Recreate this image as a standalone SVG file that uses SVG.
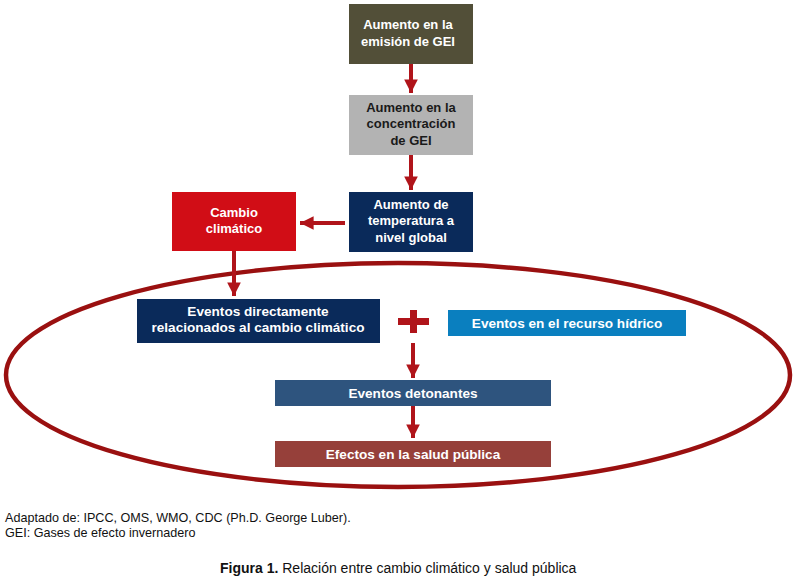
<svg xmlns="http://www.w3.org/2000/svg" width="796" height="581" viewBox="0 0 796 581">
<defs>
<style>
.t{font-family:"Liberation Sans",Arial,sans-serif;font-weight:bold;font-size:13px;fill:#fff;text-anchor:middle}
.b{font-size:13.6px}
.d{fill:#1a1a1a}
.c{font-family:"Liberation Sans",Arial,sans-serif;font-size:12.6px;fill:#111}
.ln{stroke:#b0141a;stroke-width:4;fill:none}
</style>
<marker id="ah" viewBox="0 0 10 10" refX="10" refY="5" markerWidth="3.4" markerHeight="3.4" markerUnits="strokeWidth" orient="auto">
<path d="M0,0 L10,5 L0,10 Z" fill="#b0141a"/>
</marker>
</defs>
<rect width="796" height="581" fill="#fff"/>
<g id="ellipse"><ellipse cx="398" cy="375" rx="392" ry="112" fill="none" stroke="#9a1010" stroke-width="4.5"/></g>
<g id="n1"><rect x="349" y="4" width="124" height="60" fill="#524f38"/>
<text class="t" x="408" y="29">Aumento en la</text><text class="t" x="408" y="46">emisión de GEI</text></g>
<g id="n2"><rect x="349" y="95" width="124" height="60" fill="#b3b3b3"/>
<text class="t d" x="411" y="112">Aumento en la</text><text class="t d" x="411" y="128">concentración</text><text class="t d" x="411" y="145">de GEI</text></g>
<g id="n3"><rect x="349" y="192" width="124" height="60" fill="#0a2a5a"/>
<text class="t" x="411" y="209">Aumento de</text><text class="t" x="411" y="225">temperatura a</text><text class="t" x="411" y="242">nivel global</text></g>
<g id="n4"><rect x="172" y="192" width="124" height="59" fill="#d10d16"/>
<text class="t" x="234" y="217">Cambio</text><text class="t" x="234" y="233">climático</text></g>
<g id="n5"><rect x="137" y="299" width="243" height="44" fill="#0a2a5a"/>
<text class="t b" x="258" y="316">Eventos directamente</text><text class="t b" x="258" y="332">relacionados al cambio climático</text></g>
<g id="n6"><rect x="448" y="310" width="238" height="26" fill="#0a7fbf"/>
<text class="t b" x="567" y="328">Eventos en el recurso hídrico</text></g>
<g id="n7"><rect x="275" y="380" width="276" height="26" fill="#2e547e"/>
<text class="t b" x="413" y="398">Eventos detonantes</text></g>
<g id="n8"><rect x="275" y="441" width="276" height="26" fill="#96403a"/>
<text class="t b" x="413" y="459">Efectos en la salud pública</text></g>
<g id="plus" fill="#b0141a"><rect x="398" y="318" width="31" height="7"/><rect x="410" y="310" width="7" height="23"/></g>
<g id="connectors">
<line class="ln" x1="411" y1="64" x2="411" y2="93" marker-end="url(#ah)"/>
<line class="ln" x1="411" y1="155" x2="411" y2="190" marker-end="url(#ah)"/>
<line class="ln" x1="345" y1="223" x2="300" y2="223" marker-end="url(#ah)"/>
<line class="ln" x1="234" y1="251" x2="234" y2="296" marker-end="url(#ah)"/>
<line class="ln" x1="413" y1="343" x2="413" y2="378" marker-end="url(#ah)"/>
<line class="ln" x1="413" y1="406" x2="413" y2="438" marker-end="url(#ah)"/>
</g>
<g id="captions">
<text class="c" x="5" y="522">Adaptado de: IPCC, OMS, WMO, CDC (Ph.D. George Luber).</text>
<text class="c" x="5" y="537">GEI: Gases de efecto invernadero</text>
<text class="c" x="220" y="573" style="font-size:14px"><tspan font-weight="bold">Figura 1.</tspan> Relación entre cambio climático y salud pública</text>
</g>
</svg>
